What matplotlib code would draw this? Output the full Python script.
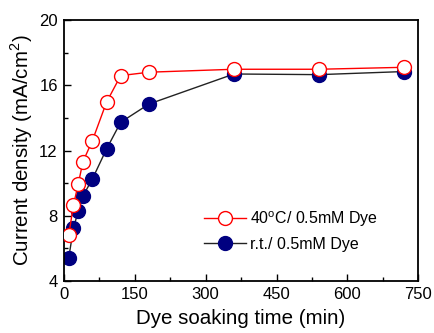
import matplotlib
matplotlib.use("Agg")
import matplotlib.pyplot as plt
from matplotlib.ticker import MultipleLocator

plt.rcParams['font.family'] = ['Liberation Sans', 'DejaVu Sans']
plt.rcParams['mathtext.fontset'] = 'custom'
plt.rcParams['mathtext.rm'] = 'Liberation Sans'

time_40c = [10, 20, 30, 40, 60, 90, 120, 180, 360, 540, 720]
jsc_40c = [6.82, 8.66, 9.93, 11.31, 12.6, 14.96, 16.59, 16.8, 16.98, 16.98, 17.1]
time_rt = [10, 20, 30, 40, 60, 90, 120, 180, 360, 540, 720]
jsc_rt = [5.43, 7.23, 8.29, 9.21, 10.25, 12.09, 13.73, 14.85, 16.69, 16.65, 16.84]

x_ticks = [0, 150, 300, 450, 600, 750]
y_ticks = [4, 8, 12, 16, 20]

fig = plt.figure(figsize=(4.34, 3.33), dpi=100)
ax = fig.add_axes([0.1475, 0.156, 0.816, 0.784])

ax.plot(time_rt, jsc_rt, '-o', color='#222222', lw=1.0, ms=10,
        markerfacecolor='#000080', markeredgecolor='#000080',
        label='r.t./ 0.5mM Dye', zorder=2)
ax.plot(time_40c, jsc_40c, '-o', color='red', lw=1.0, ms=10,
        markerfacecolor='white', markeredgecolor='red', markeredgewidth=1.0,
        label='40$^\\mathregular{o}$C/ 0.5mM Dye', zorder=3)

ax.set_xlim(0, 750)
ax.set_ylim(4, 20)
ax.set_xticks(x_ticks)
ax.set_yticks(y_ticks)
ax.xaxis.set_minor_locator(MultipleLocator(75))
ax.yaxis.set_minor_locator(MultipleLocator(2))
ax.tick_params(which='both', direction='in', labelsize=12, width=1.0)
ax.tick_params(which='major', length=5, pad=4.5)
ax.tick_params(which='minor', length=3)
for s in ax.spines.values():
    s.set_linewidth(1.3)

ax.set_xlabel('Dye soaking time (min)', fontsize=14.8, labelpad=5)
ax.set_ylabel('Current density (mA/cm$^\\mathregular{2}$)', fontsize=14.8, labelpad=3)

handles, labels = ax.get_legend_handles_labels()
ax.legend(handles[::-1], labels[::-1], loc='upper left',
          bbox_to_anchor=(0.355, 0.33), frameon=False, fontsize=11.5,
          handlelength=2.6, labelspacing=0.5, handletextpad=0.3)

fig.savefig('out.png', dpi=100)
